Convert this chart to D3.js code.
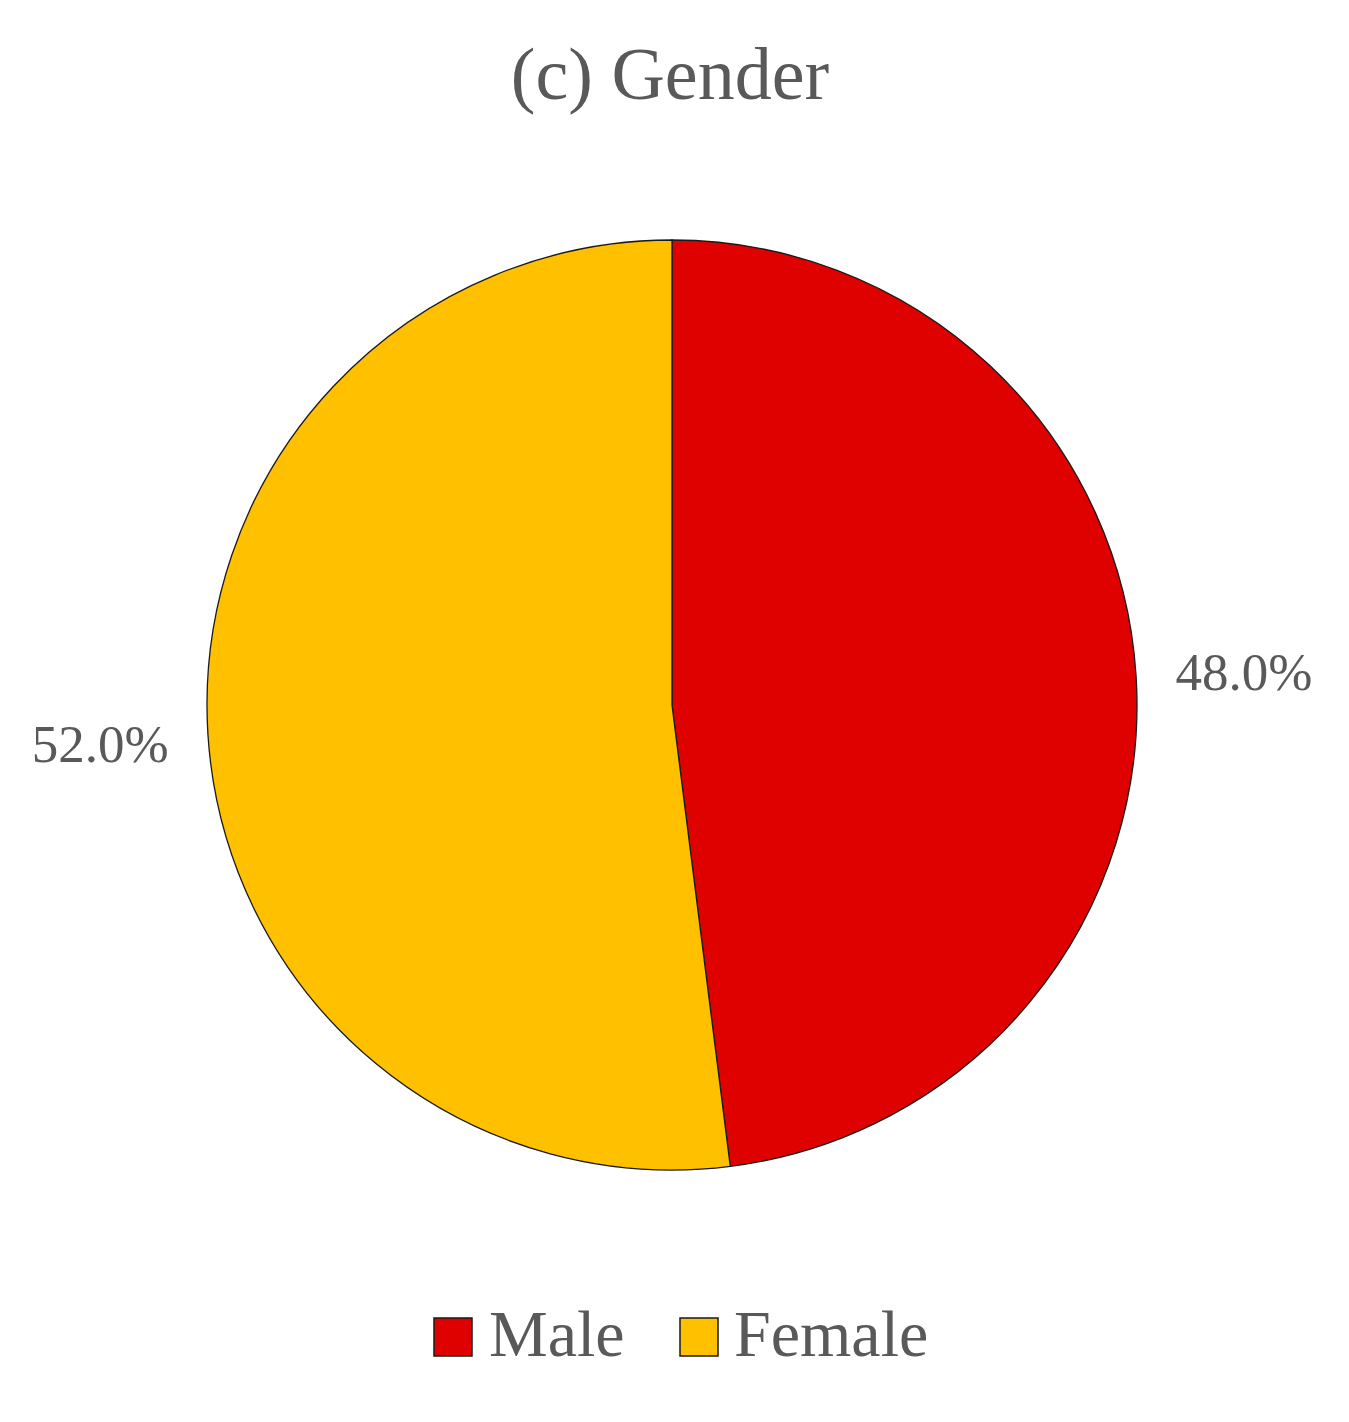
<!DOCTYPE html>
<html>
<head>
<meta charset="utf-8">
<script src="https://cdn.jsdelivr.net/npm/d3@7"></script>
<style>
  html, body { margin: 0; padding: 0; background: #ffffff; }
  svg { display: block; }
</style>
</head>
<body>
<svg id="chart" width="1349" height="1422"></svg>
<script>
const categories = ["Male", "Female"];
const values = [48.0, 52.0];
const colors = ["#DF0000", "#FFC000"];
const titleText = "(c) Gender";

const W = 1349, H = 1422;
const cx = 672, cy = 705, radius = 465;
const labelRadius = 573;
const textColor = "#595959";
const fontFamily = "'Liberation Serif', 'Times New Roman', serif";

const svg = d3.select("#chart");

svg.append("text")
  .attr("x", 670).attr("y", 99)
  .attr("text-anchor", "middle")
  .attr("font-family", fontFamily)
  .attr("font-size", 74)
  .attr("fill", textColor)
  .text(titleText);

const data = categories.map((c, i) => ({ name: c, value: values[i], color: colors[i] }));

const pie = d3.pie().value(d => d.value).sort(null);
const arc = d3.arc().innerRadius(0).outerRadius(radius);
const labelArc = d3.arc().innerRadius(labelRadius).outerRadius(labelRadius);

const g = svg.append("g").attr("transform", `translate(${cx},${cy})`);
const arcs = pie(data);

g.selectAll("path.slice")
  .data(arcs)
  .enter().append("path")
  .attr("class", "slice")
  .attr("d", arc)
  .attr("fill", d => d.data.color)
  .attr("stroke", "#1a1a1a")
  .attr("stroke-width", 1.3);

g.selectAll("text.lbl")
  .data(arcs)
  .enter().append("text")
  .attr("class", "lbl")
  .attr("transform", d => `translate(${labelArc.centroid(d)})`)
  .attr("text-anchor", "middle")
  .attr("dy", "0.4em")
  .attr("font-family", fontFamily)
  .attr("font-size", 53)
  .attr("fill", textColor)
  .text(d => d3.format(".1f")(d.data.value) + "%");

// Legend
const legendY = 1318, box = 38;
const legendItems = [
  { x: 434, tx: 489 },
  { x: 680, tx: 734 }
];
const lg = svg.append("g");
data.forEach((d, i) => {
  lg.append("rect")
    .attr("x", legendItems[i].x).attr("y", legendY)
    .attr("width", box).attr("height", box)
    .attr("fill", d.color)
    .attr("stroke", "#1a1a1a").attr("stroke-width", 1.5);
  lg.append("text")
    .attr("x", legendItems[i].tx).attr("y", 1356)
    .attr("font-family", fontFamily)
    .attr("font-size", 66)
    .attr("fill", textColor)
    .text(d.name);
});
</script>
</body>
</html>
